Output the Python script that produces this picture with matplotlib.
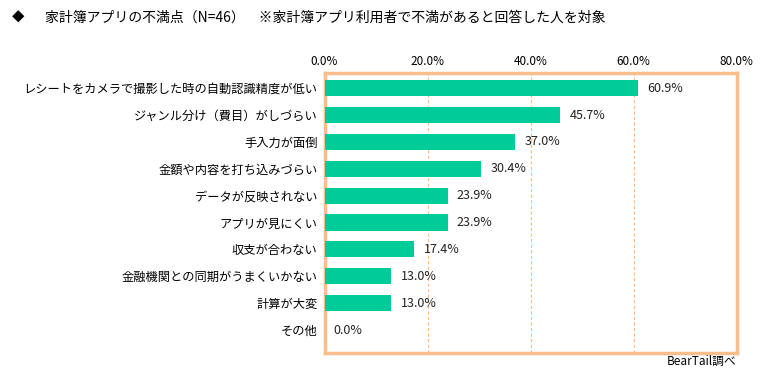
import matplotlib
matplotlib.use("Agg")
from matplotlib import pyplot as plt

plt.rcParams['font.family'] = ['Noto Sans CJK JP', 'DejaVu Sans']

categories = [
    "レシートをカメラで撮影した時の自動認識精度が低い",
    "ジャンル分け（費目）がしづらい",
    "手入力が面倒",
    "金額や内容を打ち込みづらい",
    "データが反映されない",
    "アプリが見にくい",
    "収支が合わない",
    "金融機関との同期がうまくいかない",
    "計算が大変",
    "その他",
]
values = [60.9, 45.7, 37.0, 30.4, 23.9, 23.9, 17.4, 13.0, 13.0, 0.0]
xticks = [0, 20, 40, 60, 80]

bar_color = "#00CC99"
frame_color = "#F9BE8C"

fig = plt.figure(figsize=(7.69, 3.75), dpi=100)
ax = fig.add_axes([0.422, 0.059, 0.536, 0.746])

ypos = list(range(len(categories)))
ax.barh(ypos, values, height=0.6, color=bar_color, zorder=3)
for y, v in zip(ypos, values):
    ax.text(v + 1.8, y, f"{v:.1f}%", va="center", ha="left", fontsize=9, color="#222222")

ax.set_xlim(0, 80)
ax.set_ylim(len(categories) - 1 + 0.85, -0.56)
ax.set_xticks(xticks)
ax.set_xticklabels([f"{t:.1f}%" for t in xticks], fontsize=8.5)
ax.xaxis.tick_top()
ax.tick_params(axis="x", length=0, pad=4)
ax.set_yticks(ypos)
ax.set_yticklabels(categories, fontsize=8.8)
ax.tick_params(axis="y", length=0, pad=5)

for t in [20, 40, 60]:
    ax.axvline(t, color=frame_color, linestyle=(0, (3, 2)), linewidth=0.8, zorder=1)

for s in ax.spines.values():
    s.set_color(frame_color)
    s.set_linewidth(2.5)

fig.text(0.016, 0.952, "◆", fontsize=9, va="center", ha="left")
fig.text(0.058, 0.952, "家計簿アプリの不満点（N=46）　※家計簿アプリ利用者で不満があると回答した人を対象",
         fontsize=10, va="center", ha="left")
fig.text(0.958, 0.035, "BearTail調べ", fontsize=8.5, va="center", ha="right")

fig.savefig("out.png", dpi=100)
